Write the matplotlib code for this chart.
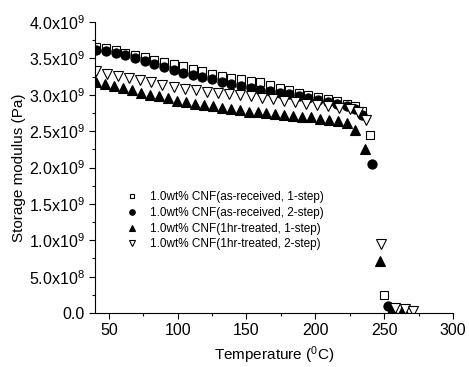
#!/usr/bin/env python3

import numpy as np
import matplotlib
matplotlib.use('Agg')
import matplotlib.pyplot as plt
from matplotlib import rcParams
from matplotlib.ticker import MultipleLocator
rcParams['font.family'] = ['Liberation Sans', 'DejaVu Sans']
rcParams['mathtext.fontset'] = 'custom'
rcParams['mathtext.rm'] = 'Liberation Sans'

# 1.0wt% CNF (as-received, 1-step)
T_ar1 = [41, 48, 55, 62, 69, 76, 83, 90, 97, 104, 111, 118, 125, 132, 139, 146,
         153, 160, 167, 174, 181, 188, 195, 202, 209, 216, 223, 229, 234, 240, 250]
E_ar1 = [3.66, 3.64, 3.61, 3.58, 3.55, 3.52, 3.48, 3.45, 3.42, 3.39, 3.35, 3.32,
         3.29, 3.26, 3.23, 3.21, 3.19, 3.17, 3.13, 3.09, 3.06, 3.03, 3.00, 2.97,
         2.94, 2.91, 2.88, 2.85, 2.78, 2.45, 0.25]

# 1.0wt% CNF (as-received, 2-step)
T_ar2 = [41, 48, 55, 62, 69, 76, 83, 90, 97, 104, 111, 118, 125, 132, 139, 146,
         153, 160, 167, 174, 181, 188, 195, 202, 209, 216, 223, 229, 234, 241, 253]
E_ar2 = [3.62, 3.60, 3.57, 3.54, 3.50, 3.46, 3.42, 3.38, 3.34, 3.30, 3.27, 3.24,
         3.21, 3.18, 3.15, 3.12, 3.10, 3.07, 3.05, 3.03, 3.01, 2.99, 2.96, 2.93,
         2.90, 2.87, 2.84, 2.80, 2.72, 2.05, 0.10]

# 1.0wt% CNF (1hr-treated, 1-step)
T_tr1 = [41, 47.5, 54, 60.5, 67, 73.5, 80, 86.5, 93, 99.5, 106, 112.5, 119, 125.5,
         132, 138.5, 145, 151.5, 158, 164.5, 171, 177.5, 184, 190.5, 197, 203.5,
         210, 216.5, 223, 229, 236, 247, 256, 264]
E_tr1 = [3.18, 3.15, 3.12, 3.09, 3.06, 3.03, 3.00, 2.98, 2.95, 2.92, 2.90, 2.88,
         2.86, 2.84, 2.82, 2.80, 2.79, 2.77, 2.76, 2.75, 2.73, 2.72, 2.71, 2.70,
         2.69, 2.67, 2.66, 2.64, 2.61, 2.52, 2.25, 0.72, 0.05, 0.05]

# 1.0wt% CNF (1hr-treated, 2-step)
T_tr2 = [41, 49, 57, 65, 73, 81, 89, 97, 105, 113, 121, 129, 137, 145, 153, 161,
         169, 177, 185, 193, 201, 209, 217, 225, 231, 237, 248, 258, 265, 271]
E_tr2 = [3.32, 3.29, 3.26, 3.23, 3.20, 3.17, 3.14, 3.11, 3.08, 3.06, 3.04, 3.02,
         3.01, 3.00, 2.98, 2.96, 2.94, 2.92, 2.90, 2.88, 2.86, 2.84, 2.82, 2.80,
         2.77, 2.65, 0.95, 0.07, 0.05, 0.03]

labels = ['1.0wt% CNF(as-received, 1-step)',
          '1.0wt% CNF(as-received, 2-step)',
          '1.0wt% CNF(1hr-treated, 1-step)',
          '1.0wt% CNF(1hr-treated, 2-step)']

yticks = [0.0, 0.5, 1.0, 1.5, 2.0, 2.5, 3.0, 3.5, 4.0]
yticklabels = ['0.0', r'$\mathregular{5.0x10^8}$', r'$\mathregular{1.0x10^9}$',
               r'$\mathregular{1.5x10^9}$', r'$\mathregular{2.0x10^9}$',
               r'$\mathregular{2.5x10^9}$', r'$\mathregular{3.0x10^9}$',
               r'$\mathregular{3.5x10^9}$', r'$\mathregular{4.0x10^9}$']

fig = plt.figure(figsize=(4.69, 3.67), dpi=100)
ax = fig.add_axes([0.2026, 0.147, 0.7634, 0.793])

ax.plot(T_ar1, np.array(E_ar1)*1e9, 's', ms=6, mfc='white', mec='k', mew=0.8, label=labels[0])
ax.plot(T_ar2, np.array(E_ar2)*1e9, 'o', ms=6.6, mfc='k', mec='k', mew=0.8, label=labels[1])
ax.plot(T_tr1, np.array(E_tr1)*1e9, '^', ms=7.5, mfc='k', mec='k', mew=0.8, label=labels[2])
ax.plot(T_tr2, np.array(E_tr2)*1e9, 'v', ms=7.5, mfc='white', mec='k', mew=0.8, label=labels[3])

ax.set_xlim(40, 300)
ax.set_ylim(0, 4.0e9)
ax.set_xticks([50, 100, 150, 200, 250, 300])
ax.xaxis.set_minor_locator(MultipleLocator(25))
ax.set_yticks([v*1e9 for v in yticks])
ax.set_yticklabels(yticklabels)
ax.yaxis.set_minor_locator(MultipleLocator(0.25e9))

ax.spines['top'].set_visible(False)
ax.spines['right'].set_visible(False)
ax.tick_params(axis='both', which='major', direction='out', length=4, width=0.8, labelsize=11.5)
ax.tick_params(axis='both', which='minor', direction='out', length=2.5, width=0.8)

ax.set_xlabel(r'Temperature ($\mathregular{^0}$C)', fontsize=11)
ax.set_ylabel('Storage modulus (Pa)', fontsize=11, labelpad=2)

ax.legend(loc='upper left', bbox_to_anchor=(0.087, 0.419), frameon=False, fontsize=8.5,
          markerscale=0.6, handlelength=1.0, handletextpad=1.0, borderpad=0,
          borderaxespad=0, labelspacing=0.32)

plt.savefig('out.png', dpi=100)
